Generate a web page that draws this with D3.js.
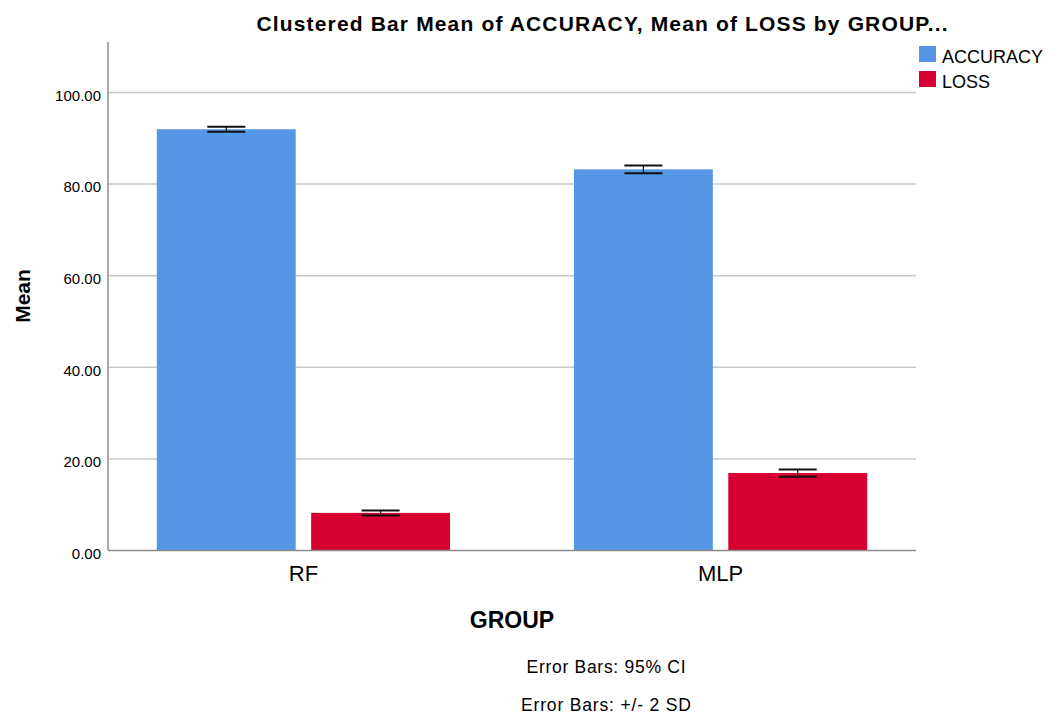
<!DOCTYPE html>
<html>
  <head>
    <script src="https://d3js.org/d3.v7.min.js"></script>
    <style>
      body { margin: 0; background: #fff; }
      text { font-family: "Liberation Sans", Arial, sans-serif; fill: #000; }
    </style>
  </head>
  <body>
    <script>

      // data
      var groups = ["RF", "MLP"]
      var series = ["ACCURACY", "LOSS"]
      var accuracy = [91.85, 83.1]
      var loss = [8.1, 16.8]
      var accuracy_ci = [0.55, 0.85]
      var loss_ci = [0.55, 0.8]
      var y_ticks = [0, 20, 40, 60, 80, 100]
      var notes = ["Error Bars: 95% CI", "Error Bars: +/- 2 SD"]

      var colors = ["#5596e5", "#d60032"]

      var w = 1050
      var h = 715
      var plot_left = 108
      var plot_right = 916
      var plot_top = 42
      var plot_bottom = 550

      var svg = d3.select("body").append("svg")
        .attr("width", w)
        .attr("height", h)

      // scales
      var y_scale = d3.scaleLinear()
        .domain([0, 110.9])
        .range([plot_bottom, plot_top])

      var x_scale = d3.scaleBand()
        .domain(groups)
        .range([plot_left, plot_right])
        .paddingInner(0.297)
        .paddingOuter(0.117)

      var x_sub = d3.scaleBand()
        .domain(series)
        .range([0, x_scale.bandwidth()])
        .paddingInner(0.1)

      // gridlines
      svg.append("g")
        .selectAll("line")
        .data(y_ticks.slice(1))
        .enter()
        .append("line")
        .attr("x1", plot_left)
        .attr("x2", plot_right)
        .attr("y1", function(d) { return y_scale(d) + 0.5 })
        .attr("y2", function(d) { return y_scale(d) + 0.5 })
        .attr("stroke", "#c8c8c8")
        .attr("stroke-width", 1.5)

      // table of bars
      var rows = []
      groups.forEach(function(g, i) {
        rows.push({group: g, s: series[0], v: accuracy[i], ci: accuracy_ci[i], c: colors[0]})
        rows.push({group: g, s: series[1], v: loss[i], ci: loss_ci[i], c: colors[1]})
      })

      svg.append("g")
        .selectAll("rect")
        .data(rows)
        .enter()
        .append("rect")
        .attr("x", function(d) { return x_scale(d.group) + x_sub(d.s) })
        .attr("y", function(d) { return y_scale(d.v) })
        .attr("width", x_sub.bandwidth())
        .attr("height", function(d) { return plot_bottom - y_scale(d.v) })
        .attr("fill", function(d) { return d.c })

      // error bars
      var cap = 38
      var eb = svg.append("g")
        .selectAll("g")
        .data(rows)
        .enter()
        .append("g")
        .attr("transform", function(d) {
          return "translate(" + (x_scale(d.group) + x_sub(d.s) + x_sub.bandwidth() / 2) + ",0)"
        })

      eb.append("line")
        .attr("x1", 0).attr("x2", 0)
        .attr("y1", function(d) { return y_scale(d.v + d.ci) })
        .attr("y2", function(d) { return y_scale(d.v - d.ci) })
        .attr("stroke", "#000")
        .attr("stroke-width", 1.2)

      eb.selectAll(".cap")
        .data(function(d) { return [d.v + d.ci, d.v - d.ci] })
        .enter()
        .append("line")
        .attr("class", "cap")
        .attr("x1", -cap / 2).attr("x2", cap / 2)
        .attr("y1", function(d) { return y_scale(d) })
        .attr("y2", function(d) { return y_scale(d) })
        .attr("stroke", "#111")
        .attr("stroke-width", 2)

      // axes
      var y_axis = d3.axisLeft(y_scale)
        .tickValues(y_ticks)
        .tickFormat(d3.format(".2f"))
        .tickSize(0)
        .tickPadding(7)

      var ya = svg.append("g")
        .attr("transform", "translate(" + plot_left + ",0)")
        .call(y_axis)
      ya.select(".domain").remove()
      ya.selectAll("text")
        .attr("font-size", 15)
        .attr("font-family", "Liberation Sans, Arial, sans-serif")
        .attr("fill", "#222")
        .attr("dy", "0.55em")

      svg.append("line")
        .attr("x1", plot_left).attr("x2", plot_left)
        .attr("y1", plot_top).attr("y2", plot_bottom)
        .attr("stroke", "#8c8c8c")
        .attr("stroke-width", 1.5)

      var x_axis = d3.axisBottom(x_scale)
        .tickSize(0)
        .tickPadding(15)

      var xa = svg.append("g")
        .attr("transform", "translate(0," + plot_bottom + ")")
        .call(x_axis)
      xa.select(".domain").remove()
      xa.selectAll("text")
        .attr("font-size", 22)
        .attr("font-family", "Liberation Sans, Arial, sans-serif")
        .attr("fill", "#222")

      svg.append("line")
        .attr("x1", plot_left).attr("x2", plot_right)
        .attr("y1", plot_bottom + 0.5).attr("y2", plot_bottom + 0.5)
        .attr("stroke", "#8c8c8c")
        .attr("stroke-width", 1.5)

      // titles
      svg.append("text")
        .attr("x", 602)
        .attr("y", 31)
        .attr("text-anchor", "middle")
        .attr("font-size", 21)
        .attr("font-weight", "bold")
        .attr("textLength", 691)
        .attr("lengthAdjust", "spacing")
        .text("Clustered Bar Mean of ACCURACY, Mean of LOSS by GROUP...")

      svg.append("text")
        .attr("x", 512)
        .attr("y", 628)
        .attr("text-anchor", "middle")
        .attr("font-size", 23)
        .attr("font-weight", "bold")
        .text("GROUP")

      svg.append("text")
        .attr("transform", "translate(30,296) rotate(-90)")
        .attr("text-anchor", "middle")
        .attr("font-size", 21)
        .attr("font-weight", "bold")
        .text("Mean")

      var note_widths = [159, 170]
      svg.append("g")
        .selectAll("text")
        .data(notes)
        .enter()
        .append("text")
        .attr("x", 606)
        .attr("y", function(d, i) { return 673 + i * 38 })
        .attr("text-anchor", "middle")
        .attr("font-size", 17.5)
        .attr("fill", "#222")
        .attr("textLength", function(d, i) { return note_widths[i] })
        .attr("lengthAdjust", "spacing")
        .text(function(d) { return d })

      // legend
      var lg = svg.append("g")
        .selectAll("g")
        .data(series)
        .enter()
        .append("g")
        .attr("transform", function(d, i) { return "translate(919," + (46 + i * 25) + ")" })

      lg.append("rect")
        .attr("width", 17)
        .attr("height", 16)
        .attr("fill", function(d, i) { return colors[i] })

      lg.append("text")
        .attr("x", 23)
        .attr("y", 17)
        .attr("font-size", 18)
        .attr("fill", "#222")
        .text(function(d) { return d })

    </script>
  </body>
</html>
